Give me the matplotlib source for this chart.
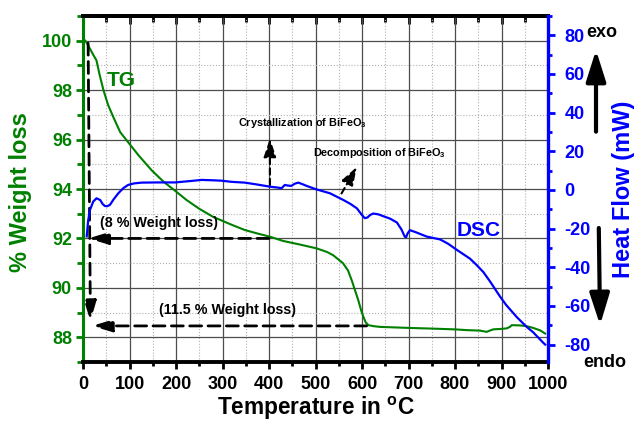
import matplotlib
matplotlib.use('Agg')
import matplotlib.pyplot as plt
from matplotlib.ticker import MultipleLocator

plt.rcParams['font.family'] = ['Liberation Sans', 'DejaVu Sans']
plt.rcParams['font.weight'] = 'bold'
plt.rcParams['axes.labelweight'] = 'bold'
plt.rcParams['axes.unicode_minus'] = False
plt.rcParams['mathtext.default'] = 'regular'

# TG curve (weight %)
temp_tg = [5, 10, 20, 29, 36, 44, 54, 65, 80, 101, 120, 148, 173, 200, 223, 250,
           280, 320, 348, 375, 402, 430, 467, 502, 525, 538, 559, 570, 578, 585,
           592, 598, 603, 608, 614, 625, 639, 700, 753, 800, 825, 854, 868, 882,
           900, 911, 918, 922, 940, 954, 968, 983, 994]
weight = [100.0, 99.85, 99.5, 99.2, 98.6, 98.0, 97.4, 96.92, 96.3, 95.8, 95.35,
          94.75, 94.3, 93.9, 93.55, 93.2, 92.87, 92.55, 92.34, 92.2, 92.07, 91.9,
          91.75, 91.6, 91.45, 91.32, 91.0, 90.7, 90.3, 89.9, 89.5, 89.1, 88.83,
          88.6, 88.49, 88.45, 88.42, 88.38, 88.35, 88.32, 88.29, 88.27, 88.22,
          88.32, 88.34, 88.36, 88.42, 88.49, 88.48, 88.45, 88.38, 88.28, 88.15]

# DSC curve (heat flow, mW)
temp_dsc = [8, 11, 15, 22, 29, 37, 42, 47, 52, 58, 66, 76, 87, 97, 110, 126, 160,
            198, 230, 255, 280, 298, 320, 348, 375, 402, 420, 427, 434, 440, 448,
            455, 463, 472, 481, 502, 531, 560, 575, 589, 600, 606, 612, 617, 624,
            635, 646, 660, 675, 685, 692, 695, 698, 703, 715, 739, 768, 785, 804,
            832, 846, 861, 875, 889, 897, 910, 925, 933, 954, 968, 990, 994]
heat_flow = [-24, -16, -10.3, -6, -4.3, -5.2, -7.2, -8.3, -8.4, -7.7, -4.8, -1.7,
             1.0, 2.6, 3.4, 3.8, 3.9, 3.9, 4.6, 5.2, 5.0, 4.8, 4.2, 3.8, 2.8, 1.7,
             1.2, 0.9, 2.6, 2.3, 2.1, 3.2, 3.8, 3.0, 2.1, 0.3, -1.7, -5.2, -7.2,
             -9.5, -13.0, -14.6, -14.2, -13.0, -12.2, -12.6, -13.6, -14.8, -16.8,
             -20.5, -24.2, -24.4, -22.5, -20.8, -21.8, -24.1, -25.6, -27.8, -31,
             -35.5, -38.7, -42.5, -47.2, -52.3, -55.2, -59.5, -63.6, -65.8, -70.8,
             -73.6, -79.1, -80]

GREEN = '#008000'
BLUE = '#0000ff'

fig = plt.figure(figsize=(6.35, 4.22), dpi=100)
ax = fig.add_axes([83 / 635, 1 - 362 / 422, 465 / 635, 346 / 422])
ax2 = ax.twinx()

ax.plot(temp_tg, weight, color=GREEN, lw=1.5, zorder=3)
ax2.plot(temp_dsc, heat_flow, color=BLUE, lw=1.6)

ax.set_xlim(0, 1000)
ax.set_ylim(87, 101)
ax2.set_ylim(-89, 90)

# ticks
ax.xaxis.set_major_locator(MultipleLocator(100))
ax.xaxis.set_minor_locator(MultipleLocator(50))
ax.yaxis.set_major_locator(MultipleLocator(2))
ax.yaxis.set_minor_locator(MultipleLocator(1))
ax2.yaxis.set_major_locator(MultipleLocator(20))
ax2.yaxis.set_minor_locator(MultipleLocator(10))

ax.tick_params(axis='x', which='both', direction='out', width=2, labelsize=13, pad=5)
ax.tick_params(axis='x', which='major', length=5)
ax.tick_params(axis='x', which='minor', length=3)
ax.tick_params(axis='y', which='both', direction='out', colors=GREEN, width=2,
               labelsize=13, pad=3)
ax.tick_params(axis='y', which='major', length=5)
ax.tick_params(axis='y', which='minor', length=4)
ax2.tick_params(axis='y', which='both', direction='out', colors=BLUE, width=2,
                labelsize=13, pad=7)
ax2.tick_params(axis='y', which='major', length=5)
ax2.tick_params(axis='y', which='minor', length=3)

top = ax.secondary_xaxis('top')
top.xaxis.set_major_locator(MultipleLocator(100))
top.xaxis.set_minor_locator(MultipleLocator(50))
top.tick_params(which='both', direction='in', width=2, labeltop=False)
top.tick_params(which='major', length=6)
top.tick_params(which='minor', length=4)
top.spines['top'].set_linewidth(2.8)

# grid
ax.set_axisbelow(True)
ax.grid(which='major', color='#4d4d4d', lw=0.9)
ax.grid(which='minor', color='#b0b0b0', ls=':', lw=0.8)

# spines
ax.spines['bottom'].set_linewidth(2.8)
ax.spines['top'].set_linewidth(2.8)
ax.spines['left'].set_color(GREEN)
ax.spines['left'].set_linewidth(2.2)
ax.spines['right'].set_visible(False)
for s in ['left', 'top', 'bottom']:
    ax2.spines[s].set_visible(False)
ax2.spines['right'].set_color(BLUE)
ax2.spines['right'].set_linewidth(2.4)

# axis labels
ax.set_xlabel('Temperature in $^{o}$C', fontsize=16.3)
ax.xaxis.set_label_coords(0.5, -0.095)
ax.set_ylabel('% Weight loss', fontsize=17, color=GREEN)
ax.yaxis.set_label_coords(-0.11, 0.49)
ax2.set_ylabel('Heat Flow (mW)', fontsize=17, color=BLUE)
ax2.yaxis.set_label_coords(1.137, 0.5)

# curve names
ax.text(83, 98.41, 'TG', color=GREEN, fontsize=15, ha='center', va='center')
ax.text(850, 92.34, 'DSC', color=BLUE, fontsize=15, ha='center', va='center')

# weight loss markers
dash_arrow = dict(arrowstyle='-|>,head_length=1.0,head_width=0.3', color='k',
                  lw=2.0, ls=(0, (4.3, 2.3)), mutation_scale=12,
                  shrinkA=0, shrinkB=0)
ax.annotate('', xy=(16, 88.65), xytext=(11, 99.9), arrowprops=dash_arrow)
ax.annotate('', xy=(11, 92.0), xytext=(400, 92.0), arrowprops=dash_arrow)
ax.annotate('', xy=(19, 88.46), xytext=(610, 88.46), arrowprops=dash_arrow)
ax.text(163, 92.63, '(8 % Weight loss)', fontsize=10.3, ha='center', va='center')
ax.text(310, 89.1, '(11.5 % Weight loss)', fontsize=10.3, ha='center', va='center')

# phase annotations
small_arrow = dict(arrowstyle='-|>,head_length=0.75,head_width=0.25', color='k',
                   lw=1.5, ls=(0, (3, 2)), mutation_scale=15,
                   shrinkA=0, shrinkB=0)
ax.annotate('', xy=(402, 96.05), xytext=(402, 94.16), arrowprops=small_arrow)
ax.annotate('', xy=(589, 94.9), xytext=(556, 93.82), arrowprops=small_arrow)
ax.text(333, 96.68, 'Crystallization of BiFeO$_3$', fontsize=7.8,
        ha='left', va='center')
ax.text(495, 95.47, 'Decomposition of BiFeO$_3$', fontsize=7.8,
        ha='left', va='center')

# exo / endo
big_arrow = dict(arrowstyle='-|>,head_length=0.95,head_width=0.3', color='k',
                 lw=3, mutation_scale=20, shrinkA=0, shrinkB=0)
ax.annotate('', xy=(0.9386, 0.8815), xytext=(0.9386, 0.688),
            xycoords='figure fraction', textcoords='figure fraction',
            arrowprops=big_arrow)
ax.annotate('', xy=(0.945, 0.2299), xytext=(0.943, 0.4597),
            xycoords='figure fraction', textcoords='figure fraction',
            arrowprops=big_arrow)
fig.text(0.948, 0.922, 'exo', fontsize=13, ha='center', va='center')
fig.text(0.953, 0.142, 'endo', fontsize=13, ha='center', va='center')

fig.savefig('out.png', dpi=100)
